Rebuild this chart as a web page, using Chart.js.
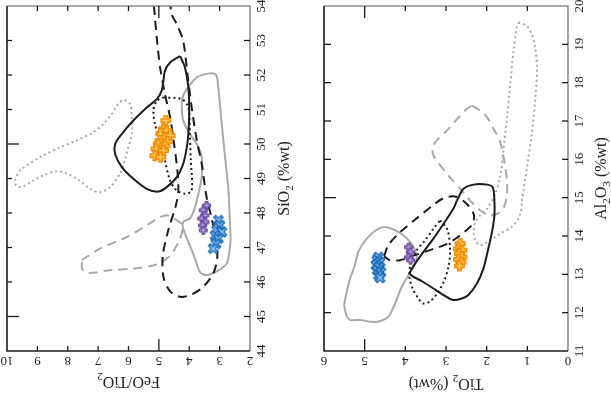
<!DOCTYPE html>
<html>
<head>
<meta charset="utf-8">
<script src="https://cdn.jsdelivr.net/npm/chart.js@4.4.1/dist/chart.umd.min.js"></script>
<style>
  html, body { margin: 0; padding: 0; background: #fff; }
  #wrap { position: relative; width: 611px; height: 410px; }
  #left { position: absolute; left: 0; top: 0; }
  #right { position: absolute; left: 305px; top: 0; }
</style>
</head>
<body>
<div id="wrap">
  <canvas id="left" width="305" height="410"></canvas>
  <canvas id="right" width="306" height="410"></canvas>
</div>
<script>
// tick labels
const feoTicks = [10, 9, 8, 7, 6, 5, 4, 3, 2];
const sio2Ticks = [44, 45, 46, 47, 48, 49, 50, 51, 52, 53, 54];
const tio2Ticks = [6, 5, 4, 3, 2, 1, 0];
const al2o3Ticks = [11, 12, 13, 14, 15, 16, 17, 18, 19, 20];

// left panel: [FeO/TiO2, SiO2]
const orangeL = [[4.77, 50.68], [4.85, 50.44], [4.74, 50.39], [4.94, 50.29], [4.80, 50.19], [4.63, 50.24], [4.96, 50.10],
  [4.72, 50.07], [5.02, 50.00], [4.80, 49.95], [5.09, 49.86], [4.85, 49.81], [5.13, 49.66], [4.94, 49.62]];
const purpleL = [[3.43, 48.22], [3.54, 48.08], [3.48, 47.93], [3.59, 47.84], [3.48, 47.74], [3.56, 47.64], [3.54, 47.50]];
const blueL = [[3.04, 47.79], [2.99, 47.64], [3.10, 47.50], [2.93, 47.45], [3.15, 47.35], [3.04, 47.26], [3.12, 47.11], [3.21, 46.97]];

const blackSolidL = [[4.30, 52.55], [4.14, 52.22], [4.03, 51.64], [4.00, 50.97], [4.03, 50.29], [4.08, 49.90], [4.20, 49.42],
  [4.41, 49.04], [4.74, 48.75], [5.02, 48.62], [5.40, 48.70], [5.84, 48.99], [6.22, 49.33], [6.44, 49.71], [6.44, 50.00],
  [6.22, 50.29], [5.84, 50.68], [5.40, 51.06], [5.07, 51.30], [4.91, 51.54], [4.85, 51.83], [4.80, 52.12], [4.63, 52.36]];
const blackDottedL = [[4.85, 51.35], [4.25, 51.30], [4.03, 51.06], [3.98, 50.29], [3.95, 49.52], [3.92, 48.65], [4.14, 48.56],
  [4.41, 48.65], [4.63, 48.94], [4.80, 49.52], [4.96, 50.10], [5.13, 50.58], [5.18, 50.97], [5.07, 51.25]];
const blackDashedL = [[5.24, 54.43], [5.16, 53.95], [5.07, 53.08], [4.96, 52.22], [4.80, 51.45], [4.63, 50.77], [4.50, 50.00],
  [4.39, 49.23], [4.36, 48.65], [4.44, 48.22], [4.69, 47.50], [4.87, 46.77], [4.85, 46.15], [4.63, 45.73], [4.30, 45.57],
  [3.92, 45.64], [3.54, 45.86], [3.21, 46.25], [3.08, 46.68], [3.12, 47.26], [3.26, 47.84], [3.43, 48.46], [3.59, 49.42],
  [3.75, 50.10], [3.92, 51.06], [4.06, 52.03], [4.20, 52.99], [4.41, 53.47], [4.58, 53.76], [4.69, 54.23]];
const greySolidL = [[4.25, 51.14], [4.22, 51.35], [4.08, 51.59], [3.75, 51.93], [3.37, 52.04], [3.12, 52.01], [3.04, 51.60],
  [2.93, 50.58], [2.82, 49.62], [2.71, 48.65], [2.66, 47.69], [2.64, 47.21], [2.68, 46.87], [2.77, 46.53], [3.04, 46.34],
  [3.43, 46.20], [3.65, 46.29], [3.81, 46.68], [4.03, 47.16], [4.20, 47.55], [4.20, 47.74], [3.98, 47.84], [3.87, 48.02],
  [3.81, 48.17], [3.70, 48.56], [3.59, 49.04], [3.59, 49.62], [3.75, 50.00], [3.98, 50.29], [4.20, 50.68]];
const greyDashedL = [[7.54, 46.63], [6.94, 46.97], [6.06, 47.30], [5.40, 47.64], [4.96, 47.88], [4.69, 47.93], [4.41, 47.79],
  [4.22, 47.64], [4.30, 47.26], [4.63, 46.77], [5.07, 46.51], [5.84, 46.39], [6.61, 46.34], [7.27, 46.26], [7.51, 46.34]];
const greyDottedL = [[9.74, 48.94], [9.57, 49.23], [8.91, 49.62], [8.26, 49.90], [7.71, 50.10], [7.16, 50.34], [6.83, 50.58],
  [6.55, 50.87], [6.34, 51.16], [6.17, 51.27], [5.95, 51.16], [5.89, 50.77], [5.89, 50.29], [6.01, 49.90], [6.12, 49.52],
  [6.28, 49.14], [6.61, 48.75], [6.94, 48.60], [7.27, 48.70], [7.60, 48.94], [8.03, 49.14], [8.36, 49.21], [8.80, 49.09],
  [9.24, 48.89], [9.52, 48.75], [9.70, 48.80]];

// right panel: [TiO2, Al2O3]
const orangeR = [[2.65, 13.80], [2.69, 13.67], [2.61, 13.63], [2.67, 13.54], [2.61, 13.45], [2.69, 13.39], [2.63, 13.32], [2.67, 13.22]];
const purpleR = [[3.92, 13.71], [3.88, 13.58], [3.92, 13.45], [3.87, 13.37]];
const blueR = [[4.66, 13.45], [4.70, 13.37], [4.62, 13.32], [4.72, 13.24], [4.64, 13.19], [4.69, 13.11], [4.60, 13.06], [4.66, 12.98], [4.62, 12.91]];

const blackSolidR = [[2.73, 14.93], [2.57, 15.23], [2.32, 15.34], [1.99, 15.34], [1.85, 15.27], [1.81, 14.93], [1.81, 14.54],
  [1.87, 14.10], [1.96, 13.67], [2.08, 13.15], [2.24, 12.76], [2.45, 12.46], [2.61, 12.37], [2.83, 12.33], [3.06, 12.46],
  [3.31, 12.63], [3.59, 12.82], [3.88, 13.00], [3.84, 13.15], [3.56, 13.58], [3.31, 13.93], [3.06, 14.32], [2.82, 14.71]];
const blackDottedR = [[3.14, 14.41], [2.96, 14.15], [2.90, 13.63], [2.94, 13.19], [3.06, 12.80], [3.23, 12.48], [3.41, 12.28],
  [3.56, 12.24], [3.68, 12.37], [3.82, 12.63], [3.90, 12.93], [3.87, 13.28], [3.72, 13.63], [3.51, 13.89], [3.31, 14.19]];
const blackDashedR = [[4.52, 13.47], [4.42, 13.76], [4.13, 14.10], [3.78, 14.41], [3.32, 14.80], [3.07, 14.98], [2.78, 15.03],
  [2.50, 14.85], [2.31, 14.54], [2.36, 14.30], [2.50, 14.15], [2.75, 13.94], [3.00, 13.78], [3.34, 13.65], [3.76, 13.50],
  [4.13, 13.37], [4.38, 13.37]];
const greySolidR = [[5.44, 11.89], [5.50, 12.20], [5.44, 12.54], [5.36, 12.89], [5.24, 13.24], [5.16, 13.58], [4.95, 13.93],
  [4.66, 14.19], [4.46, 14.23], [4.25, 14.15], [4.05, 14.02], [3.88, 13.84], [3.76, 13.63], [3.72, 13.41], [3.80, 13.19],
  [3.92, 12.98], [4.09, 12.67], [4.17, 12.46], [4.29, 12.15], [4.42, 11.89], [4.62, 11.78], [4.83, 11.76], [5.11, 11.81], [5.36, 11.81]];
const greyDashedR = [[2.36, 17.40], [2.16, 17.27], [1.99, 17.10], [1.83, 16.79], [1.68, 16.49], [1.60, 16.14], [1.54, 15.79],
  [1.50, 15.40], [1.50, 15.10], [1.57, 14.77], [1.72, 14.59], [1.94, 14.54], [2.16, 14.67], [2.41, 14.93], [2.65, 15.23],
  [2.90, 15.53], [3.14, 15.84], [3.31, 16.10], [3.33, 16.31], [3.23, 16.49], [2.98, 16.75], [2.73, 17.05], [2.49, 17.31]];
const greyDottedR = [[1.22, 19.57], [1.01, 19.48], [0.89, 19.26], [0.81, 18.92], [0.76, 18.40], [0.81, 17.53], [0.89, 16.66],
  [1.01, 15.79], [1.13, 14.93], [1.17, 14.58], [1.34, 14.28], [1.67, 14.06], [1.99, 13.84], [2.16, 13.76], [2.28, 13.89],
  [2.32, 14.10], [2.28, 14.36], [2.16, 14.54], [1.99, 14.71], [1.79, 15.10], [1.67, 15.53], [1.59, 16.23], [1.50, 17.10],
  [1.42, 17.96], [1.34, 18.83], [1.26, 19.44]];

const BLACK = '#1c1c1c';
const GREY = '#a9a9a9';
const FONT = '"Liberation Serif", "DejaVu Serif", serif';

function plusMarker(size, arm, fill, edge, inner, rot) {
  const c = document.createElement('canvas');
  c.width = c.height = size + 3;
  const g = c.getContext('2d');
  g.translate((size + 3) / 2, (size + 3) / 2);
  if (rot) g.rotate(Math.PI / 4);
  const h = size / 2, w = arm / 2;
  g.beginPath();
  g.moveTo(-w, -h); g.lineTo(w, -h); g.lineTo(w, -w); g.lineTo(h, -w); g.lineTo(h, w); g.lineTo(w, w);
  g.lineTo(w, h); g.lineTo(-w, h); g.lineTo(-w, w); g.lineTo(-h, w); g.lineTo(-h, -w); g.lineTo(-w, -w);
  g.closePath();
  g.fillStyle = fill; g.fill();
  g.strokeStyle = edge; g.lineWidth = 1; g.stroke();
  g.strokeStyle = inner; g.lineWidth = 1;
  g.beginPath();
  g.moveTo(-h + 2, 0); g.lineTo(h - 2, 0); g.moveTo(0, -h + 2); g.lineTo(0, h - 2);
  g.stroke();
  return c;
}

const orangeMark = plusMarker(10, 4, '#fba21d', '#ee8705', '#ffd766', false);
const purpleMark = plusMarker(8, 3, '#8b6bbf', '#62479a', '#b9a3de', false);
const blueMark = plusMarker(11, 3, '#3a97e4', '#1c60aa', '#9fcdf3', true);

const pts = arr => arr.map(p => ({ x: p[0], y: p[1] }));
const loop = arr => pts(arr.concat([arr[0]]));

function markers(arr, img) {
  return { data: pts(arr), pointStyle: img, pointRadius: 5, showLine: false };
}
function field(arr, color, dash) {
  return {
    data: loop(arr), showLine: true, pointRadius: 0, borderColor: color, borderWidth: 2,
    borderDash: dash, tension: 0.3, fill: false
  };
}

function drawRich(ctx, x, y, angle, parts, size) {
  ctx.save();
  ctx.translate(x, y);
  ctx.rotate(angle);
  ctx.fillStyle = '#222';
  ctx.textBaseline = 'alphabetic';
  const fonts = parts.map(p => (p[1] ? size * 0.7 : size) + 'px ' + FONT);
  let w = 0;
  const ws = parts.map((p, i) => { ctx.font = fonts[i]; const m = ctx.measureText(p[0]).width; w += m; return m; });
  let cx = -w / 2;
  parts.forEach((p, i) => {
    ctx.font = fonts[i];
    ctx.fillText(p[0], cx, size * 0.33 + (p[1] ? size * 0.25 : 0));
    cx += ws[i];
  });
  ctx.restore();
}

function axesPlugin(o) {
  return {
    id: 'axesFrame',
    afterDraw(chart) {
      const ctx = chart.ctx, a = chart.chartArea;
      const xs = chart.scales.x, ys = chart.scales.y;
      const seg = (x1, y1, x2, y2) => { ctx.beginPath(); ctx.moveTo(x1, y1); ctx.lineTo(x2, y2); ctx.stroke(); };
      ctx.save();
      ctx.lineWidth = 1.6;
      ctx.strokeStyle = '#8c8c8c';
      ctx.beginPath(); ctx.moveTo(a.left, a.top); ctx.lineTo(a.right, a.top); ctx.lineTo(a.right, a.bottom); ctx.stroke();
      ctx.strokeStyle = BLACK;
      ctx.beginPath(); ctx.moveTo(a.left, a.top); ctx.lineTo(a.left, a.bottom); ctx.lineTo(a.right, a.bottom); ctx.stroke();

      ctx.lineWidth = 1.3;
      o.xTicks.forEach((v, i) => {
        const px = xs.getPixelForValue(v);
        if (i > 0 && i < o.xTicks.length - 1) {
          const len = o.xMajor.includes(v) ? 12 : 5;
          seg(px, a.bottom, px, a.bottom - len);
          seg(px, a.top, px, a.top + len);
        }
        drawRich(ctx, px, o.xLabelY, Math.PI, [[String(v)]], o.tickSize);
      });
      o.yTicks.forEach((v, i) => {
        const py = ys.getPixelForValue(v);
        if (i > 0 && i < o.yTicks.length - 1) {
          seg(a.left, py, a.left + (o.yMajor.includes(v) ? 12 : o.yLeftLen), py);
          seg(a.right, py, a.right - 6, py);
        }
        drawRich(ctx, o.yLabelX, py, -Math.PI / 2, [[String(v)]], o.tickSize);
      });
      drawRich(ctx, (a.left + a.right) / 2, o.xTitleY, Math.PI, o.xTitle, o.titleSize);
      drawRich(ctx, o.yTitleX, (a.top + a.bottom) / 2, -Math.PI / 2, o.yTitle, o.titleSize);
      ctx.restore();
    }
  };
}

function makeChart(id, datasets, xr, yr, padding, plugin) {
  return new Chart(document.getElementById(id), {
    type: 'scatter',
    data: { datasets },
    options: {
      responsive: false,
      animation: false,
      events: [],
      layout: { padding },
      plugins: { legend: { display: false }, tooltip: { enabled: false } },
      scales: {
        x: { type: 'linear', min: xr[0], max: xr[1], reverse: true, display: false },
        y: { type: 'linear', min: yr[0], max: yr[1], display: false }
      }
    },
    plugins: [plugin]
  });
}

makeChart('left', [
  markers(orangeL, orangeMark),
  markers(purpleL, purpleMark),
  markers(blueL, blueMark),
  field(blackSolidL, BLACK, []),
  field(blackDottedL, BLACK, [2, 3]),
  field(blackDashedL, BLACK, [9, 6]),
  field(greySolidL, GREY, []),
  field(greyDashedL, GREY, [9, 6]),
  field(greyDottedL, GREY, [2, 3])
], [2, 10], [44, 54], { left: 7, right: 55, top: 5, bottom: 59 }, axesPlugin({
  xTicks: feoTicks, yTicks: sio2Ticks, xMajor: [5], yMajor: [45, 50], yLeftLen: 5,
  xLabelY: 361, yLabelX: 261, xTitleY: 382, yTitleX: 284, tickSize: 13, titleSize: 16,
  xTitle: [['FeO/TiO'], ['2', true]], yTitle: [['SiO'], ['2', true], [' (%wt)']]
}));

makeChart('right', [
  markers(orangeR, orangeMark),
  markers(purpleR, purpleMark),
  markers(blueR, blueMark),
  field(blackSolidR, BLACK, []),
  field(blackDottedR, BLACK, [2, 3]),
  field(blackDashedR, BLACK, [9, 6]),
  field(greySolidR, GREY, []),
  field(greyDashedR, GREY, [9, 6]),
  field(greyDottedR, GREY, [2, 3])
], [0, 6], [11, 20], { left: 19, right: 43, top: 5, bottom: 59 }, axesPlugin({
  xTicks: tio2Ticks, yTicks: al2o3Ticks, xMajor: [5], yMajor: [15], yLeftLen: 7,
  xLabelY: 361, yLabelX: 274, xTitleY: 384, yTitleX: 296, tickSize: 13, titleSize: 16,
  xTitle: [['TiO'], ['2', true], [' (%wt)']], yTitle: [['Al'], ['2', true], ['O'], ['3', true], [' (%wt)']]
}));
</script>
</body>
</html>
